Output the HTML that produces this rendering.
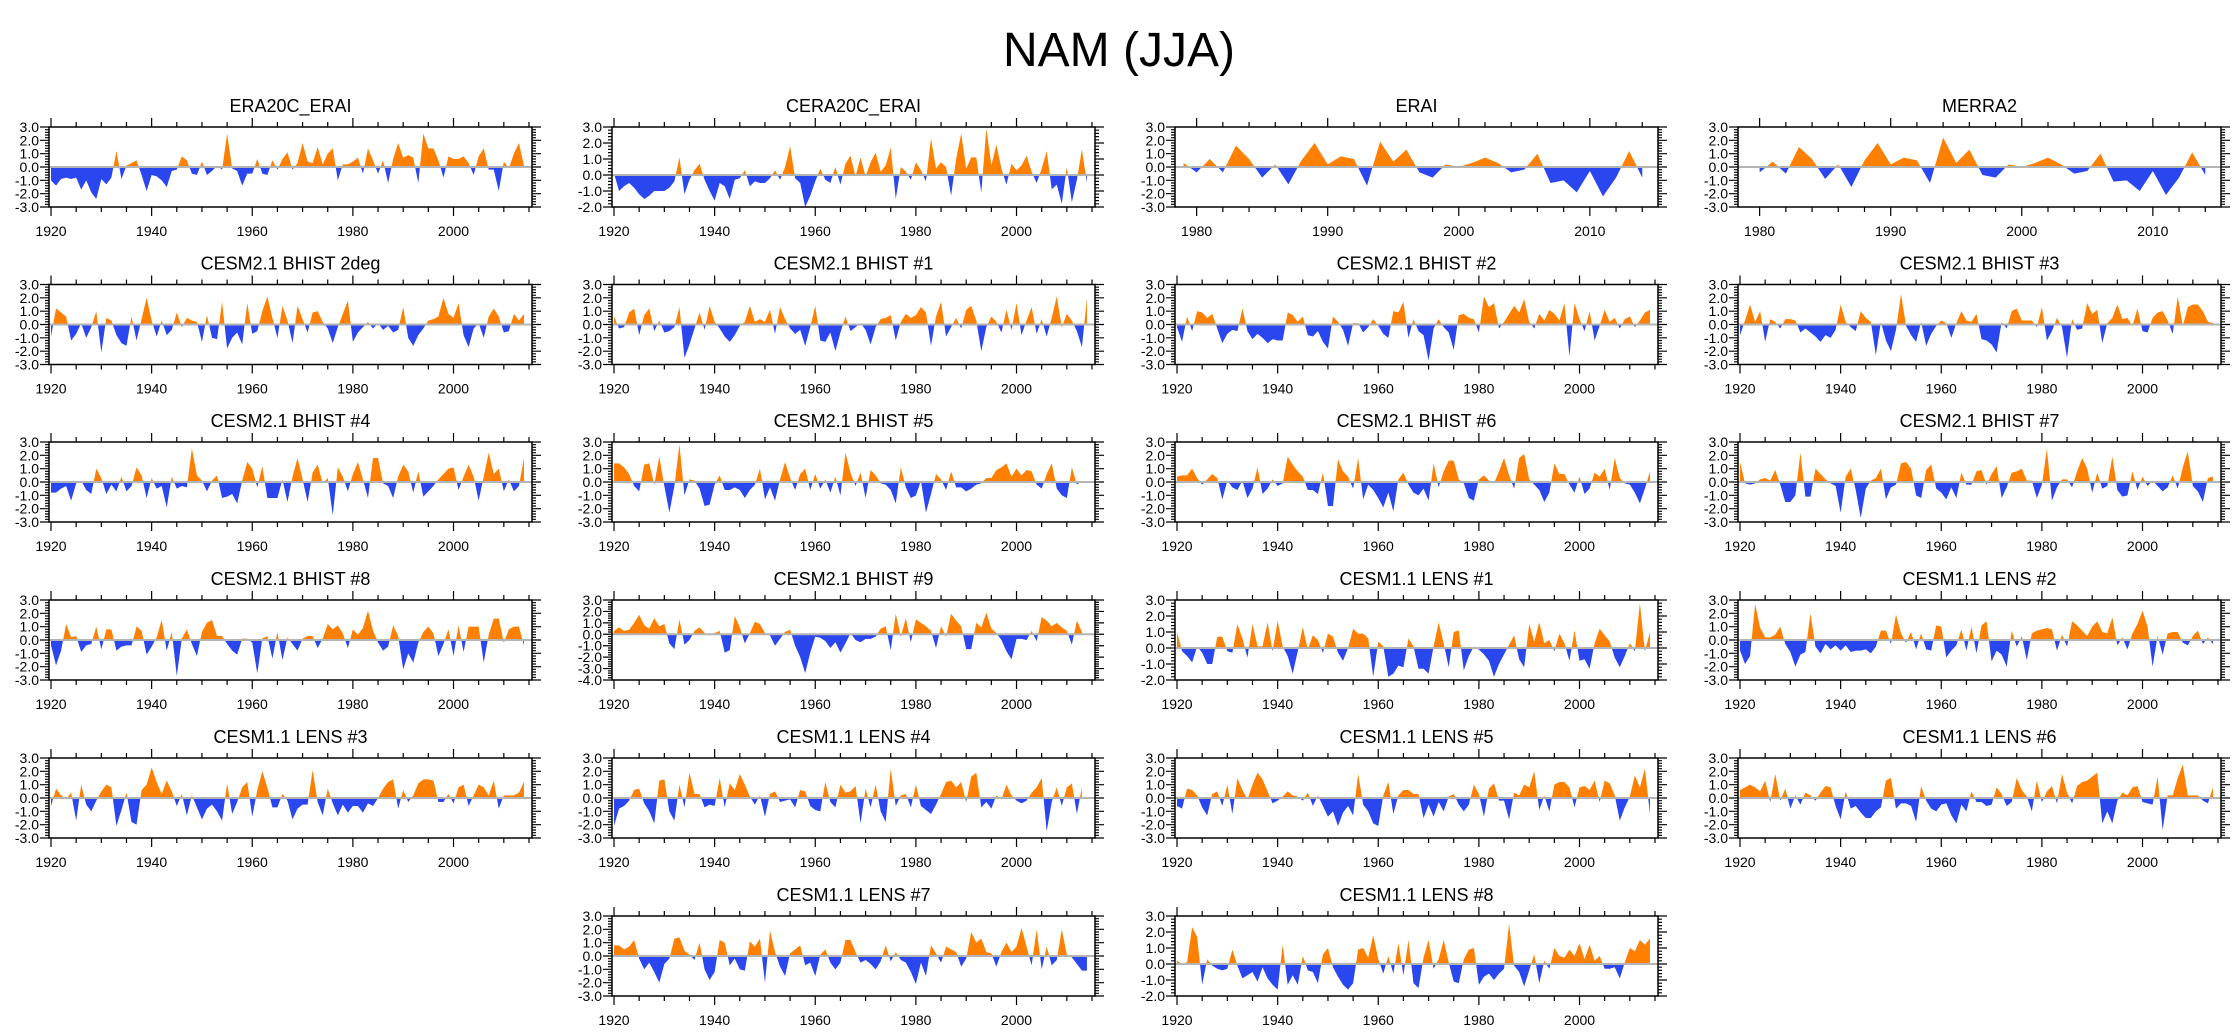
<!DOCTYPE html>
<html><head><meta charset="utf-8"><style>
html,body{margin:0;padding:0;background:#fff;}
svg{display:block;font-family:"Liberation Sans",Arial,sans-serif;}
</style></head><body>
<svg id="fig" width="2238" height="1034" viewBox="0 0 2238 1034" xmlns="http://www.w3.org/2000/svg">
<rect width="2238" height="1034" fill="#fff"/>
<text x="1119" y="66" font-size="48" text-anchor="middle" fill="#000">NAM (JJA)</text>
</svg>
<script>
const titles = ["ERA20C_ERAI","CERA20C_ERAI","ERAI","MERRA2","CESM2.1 BHIST 2deg","CESM2.1 BHIST #1","CESM2.1 BHIST #2","CESM2.1 BHIST #3","CESM2.1 BHIST #4","CESM2.1 BHIST #5","CESM2.1 BHIST #6","CESM2.1 BHIST #7","CESM2.1 BHIST #8","CESM2.1 BHIST #9","CESM1.1 LENS #1","CESM1.1 LENS #2","CESM1.1 LENS #3","CESM1.1 LENS #4","CESM1.1 LENS #5","CESM1.1 LENS #6","CESM1.1 LENS #7","CESM1.1 LENS #8"];
const startYears = [1920,1920,1979,1980,1920,1920,1920,1920,1920,1920,1920,1920,1920,1920,1920,1920,1920,1920,1920,1920,1920,1920];
const yMins = [-3,-2,-3,-3,-3,-3,-3,-3,-3,-3,-3,-3,-3,-4,-2,-3,-3,-3,-3,-3,-3,-2];
const yMaxs = [3,3,3,3,3,3,3,3,3,3,3,3,3,3,3,3,3,3,3,3,3,3];
const sEra20c = [-1.0,-1.4,-0.9,-0.8,-0.9,-0.8,-1.7,-1.0,-1.9,-2.4,-0.9,-1.3,-0.8,1.2,-0.9,0.1,0.3,0.5,-0.6,-1.8,-0.6,-0.7,-1.0,-1.5,-0.3,-0.2,0.8,0.5,-0.5,-0.6,0.4,-0.6,-0.3,0.1,-0.2,2.5,-0.1,-0.3,-1.4,-0.5,-0.5,0.6,-0.5,-0.6,0.5,-0.2,0.6,1.1,-0.2,0.3,1.8,0.4,0.3,1.5,0.2,1.0,1.4,-1.0,0.2,0.2,0.4,0.7,-0.5,1.4,0.5,-0.5,0.5,-1.2,0.6,1.8,0.7,0.9,0.7,-1.2,2.5,1.4,1.4,0.5,-0.8,0.8,0.6,0.6,0.8,0.3,-0.6,0.8,1.4,-0.2,-0.2,-1.8,0.4,-0.1,1.0,1.8,0.1];
const sCera20c = [0.1,-1.0,-0.7,-0.5,-0.8,-1.2,-1.5,-1.3,-1.0,-1.0,-1.0,-0.8,-0.4,1.1,-1.2,-0.3,0.3,0.7,-0.3,-1.0,-1.6,-0.5,-0.7,-1.5,-0.3,-0.2,0.3,-0.7,-0.4,-0.5,-0.5,-0.2,0.3,-0.3,0.5,1.8,-0.2,-0.5,-2.0,-1.3,-0.4,0.4,-0.3,-0.5,0.5,-0.6,0.7,1.2,-0.1,1.1,-0.1,0.8,1.4,0.2,0.6,1.7,-1.5,0.5,0.2,-0.3,0.8,0.3,-0.4,2.3,0.4,0.8,0.5,-1.3,1.0,2.6,0.4,1.1,1.1,-1.1,2.9,0.6,1.9,0.4,-0.6,0.7,0.3,0.6,1.2,0.2,-0.5,0.4,1.5,-0.9,-0.6,-1.8,0.5,-1.7,-0.3,1.6,-0.5];
const sErai = [0.3,-0.4,0.6,-0.4,1.6,0.6,-0.8,0.2,-1.3,0.5,1.8,0.2,0.8,0.6,-1.4,1.9,0.4,1.3,-0.4,-0.8,0.2,0.0,0.3,0.7,0.3,-0.4,-0.2,1.0,-1.2,-1.0,-1.9,-0.3,-2.2,-0.8,1.2,-0.8];
const sMerra2 = [-0.4,0.4,-0.5,1.5,0.6,-0.9,0.2,-1.5,0.5,1.8,0.2,0.7,0.5,-1.2,2.2,0.3,1.3,-0.6,-0.8,0.2,0.0,0.3,0.7,0.2,-0.5,-0.3,1.0,-1.1,-1.0,-1.8,-0.3,-2.1,-0.8,1.1,-0.6];
const sB2deg = [-0.9,1.2,0.9,0.6,-1.2,-0.7,0.1,-1.0,-0.2,1.0,-2.1,0.5,0.3,-0.8,-1.4,-1.6,0.6,-1.2,0.4,2.0,0.3,-0.9,0.3,-0.8,-0.4,0.9,-0.2,0.5,0.3,0.2,-1.3,0.7,-1.0,-1.1,1.7,-1.8,-1.0,-0.6,-1.5,1.6,-0.7,-0.5,1.0,2.1,0.5,-1.0,1.4,0.3,-1.4,1.4,0.4,-0.6,0.9,1.0,0.2,-0.3,-1.4,-0.2,0.8,1.8,-1.3,-0.6,-0.2,0.2,-0.3,0.1,-0.4,-0.1,-0.6,-0.4,1.3,-1.0,-1.6,-0.8,-0.3,0.3,0.4,0.6,2.0,0.8,0.5,1.6,-0.8,-1.7,-0.3,0.1,-1.0,0.6,1.2,0.6,-0.6,-0.5,0.8,0.3,0.8];
const sB1 = [0.6,-0.3,-0.2,0.9,1.2,-0.8,0.7,1.2,-0.5,0.3,-0.6,-0.5,-0.2,1.3,-2.5,-1.5,-0.3,0.9,-0.4,1.4,0.2,-0.3,-0.9,-1.3,-0.8,-0.1,0.2,1.4,0.2,0.4,0.2,1.1,-0.7,1.3,0.4,-0.3,-0.7,-0.4,-1.6,-0.2,1.4,-1.2,-1.3,-0.6,-2.0,-0.6,0.6,-0.5,-0.2,0.1,-0.4,-1.5,-0.2,0.4,0.5,0.7,-1.2,0.2,0.8,0.5,0.7,1.3,0.9,-1.6,0.6,1.7,-0.9,-0.2,0.5,-0.3,1.1,1.4,0.3,-2.0,-0.2,0.6,0.2,-0.6,1.1,-0.4,1.6,-0.8,0.3,1.3,-0.7,0.4,-0.9,0.5,2.1,-0.2,0.8,0.3,-0.5,-1.7,2.0];
const sB2 = [-0.2,-1.3,0.6,-0.5,1.0,0.9,0.5,0.8,-0.3,-1.4,-0.7,-0.4,-0.5,1.2,-0.5,-1.1,-0.7,-1.0,-1.4,-1.1,-1.2,-1.2,0.9,0.7,0.2,0.6,-0.8,-0.9,-0.5,-1.3,-1.8,0.6,0.2,-0.4,-1.6,0.1,0.1,-0.6,-0.2,0.4,-0.1,-0.7,-1.0,1.0,0.9,1.7,-1.0,0.4,-0.5,-0.8,-2.7,-0.3,0.4,-0.2,-0.6,-1.9,0.7,0.8,0.5,0.4,-0.6,2.1,1.3,1.6,-0.3,0.2,0.8,1.4,0.9,1.9,0.2,-0.3,0.8,0.3,1.1,0.8,0.3,1.6,-2.4,1.6,0.4,-0.5,1.0,-1.2,-0.1,1.1,0.2,0.5,-0.3,0.4,0.6,-0.2,0.3,0.9,1.1];
const sB3 = [-0.8,0.3,1.5,0.2,1.0,-1.3,0.4,0.2,-0.3,0.4,0.4,0.3,-0.6,-0.3,-0.6,-0.9,-1.3,-0.8,-1.0,-0.4,1.5,0.2,-0.2,-0.5,1.0,0.5,0.2,-2.3,0.2,-1.2,-2.0,-0.4,2.3,-0.1,-0.8,-1.3,0.2,-1.6,-0.7,-0.1,0.3,0.1,-1.0,0.1,1.0,0.3,0.2,0.8,-1.1,-1.2,-1.5,-2.1,0.2,-0.3,1.0,1.2,0.3,0.3,0.3,-0.2,1.3,-1.2,-0.5,0.5,-0.2,-2.5,0.4,-0.4,-0.3,1.6,0.8,1.1,-1.4,0.1,0.5,1.5,0.4,0.5,-0.1,1.2,-0.5,-0.6,0.5,0.9,1.0,0.3,-0.7,2.1,-0.1,1.3,1.5,1.5,1.0,0.2,0.1];
const sB4 = [-0.8,-0.8,-0.5,-0.3,-1.4,-0.1,0.1,-0.6,-0.9,1.0,0.3,-0.9,-0.2,-0.7,0.4,-0.7,-0.3,1.1,0.5,-1.2,0.3,-0.5,-0.3,-1.9,0.4,-0.5,-0.3,-0.4,2.5,0.5,0.1,-0.7,0.1,0.5,-1.2,-1.1,-0.9,-1.6,0.1,1.5,1.0,-0.4,1.2,-1.2,-1.2,-1.2,0.2,-1.5,0.4,1.8,0.2,-1.5,0.7,1.3,-0.1,0.3,-2.5,1.1,0.4,-0.7,0.6,1.5,0.2,-1.2,1.8,1.8,-0.1,-0.3,-1.2,0.4,1.3,0.8,-0.8,0.8,-1.1,-0.7,-0.3,0.2,0.6,1.0,1.1,-0.6,0.4,1.3,0.4,-1.4,0.4,2.2,0.6,1.0,-0.7,0.2,-0.7,-0.3,1.8];
const sB5 = [1.4,1.4,1.1,0.6,-0.3,-0.7,1.3,1.4,-0.2,1.9,-0.3,-2.3,-0.3,2.8,-1.0,0.2,0.1,-0.5,-1.8,-1.7,-0.2,0.5,-0.6,-0.6,-0.4,-0.6,-1.2,-0.6,-0.2,1.0,-1.3,-0.4,-1.4,0.2,1.5,0.3,-0.6,0.6,1.0,-0.6,0.6,-0.5,0.2,-0.8,0.4,-1.0,2.2,0.7,-0.3,0.7,-1.2,0.9,0.5,-0.1,-0.2,-0.6,-1.6,1.1,-0.4,-1.2,-1.0,0.1,-2.3,-0.9,0.6,0.2,-0.6,0.8,-0.4,-0.4,-0.7,-0.5,-0.2,-0.1,0.3,0.3,0.9,1.1,1.4,0.4,1.0,0.5,0.9,0.8,-0.2,-0.5,0.6,1.4,-0.5,-1.0,-1.2,1.1,-0.2,0.1,-0.1];
const sB6 = [0.4,0.5,0.5,1.0,0.3,-0.2,0.2,0.6,0.3,-1.3,0.1,-0.4,-0.6,0.1,-1.2,-0.5,1.1,-0.9,-0.5,0.2,-0.3,-0.1,1.9,1.3,0.8,0.4,-0.6,-0.6,-0.9,0.7,-1.8,-1.8,1.7,0.8,0.4,-0.5,1.8,-1.3,-0.2,-0.6,-1.2,-1.9,-0.8,-2.2,0.2,0.7,-0.2,-0.8,-1.0,-0.5,-1.4,1.4,-0.4,0.8,1.6,1.6,0.2,-0.1,-1.2,-1.4,0.2,0.5,0.1,-0.1,0.8,1.8,0.5,-0.5,1.8,2.1,0.2,-0.2,-0.6,-1.5,-0.8,1.4,0.6,0.6,-0.2,-0.8,0.4,-0.9,-0.5,0.7,0.4,1.0,-0.6,1.8,0.3,-0.1,-0.2,-0.8,-1.6,-0.5,0.8];
const sB7 = [1.5,-0.1,-0.2,-0.1,0.2,0.3,0.1,0.9,-0.2,-1.5,-1.5,-1.0,2.2,-1.1,-1.1,1.0,0.6,0.2,-0.1,-0.3,-2.3,0.4,1.0,-0.6,-2.7,-0.5,0.1,0.3,1.0,-1.3,-0.4,-0.2,1.4,1.5,1.0,-1.0,-1.2,0.9,1.3,-0.5,-0.8,-1.3,-0.4,-1.2,0.7,-0.2,-0.2,0.8,0.9,-0.2,0.6,1.2,-1.2,-0.4,0.7,0.8,1.0,0.1,0.1,-1.2,-0.2,2.5,-1.4,-0.4,0.2,0.2,-0.4,0.8,1.8,1.0,-0.8,0.7,-0.5,-0.3,1.9,-0.6,-1.1,-1.0,0.8,-0.6,0.4,-0.3,0.1,-0.3,-0.7,-0.4,0.5,-0.5,1.1,2.3,-0.3,-0.7,-1.5,0.3,0.4];
const sB8 = [-0.4,-1.9,-0.8,1.2,0.2,0.3,-0.9,-0.4,-0.3,1.0,-0.7,0.8,0.8,-0.8,-0.5,-0.4,-0.4,1.0,0.7,-1.1,-0.5,0.2,1.5,-0.8,0.6,-2.7,0.1,0.8,-0.3,-1.2,0.6,1.3,1.5,0.3,0.3,-0.3,-0.8,-1.1,0.1,0.1,-0.2,-2.5,0.1,0.3,-1.4,0.6,-1.5,0.2,-0.3,-0.8,0.1,0.3,0.3,-0.6,0.1,1.2,0.8,1.1,0.5,-0.6,0.8,0.4,0.9,2.2,0.7,-0.2,-0.8,-0.5,1.1,0.3,-2.2,-1.0,-1.7,-0.2,0.6,1.0,0.5,-1.2,-0.3,0.8,-1.2,1.1,-0.9,1.0,1.0,1.0,-1.7,0.4,1.6,1.6,-0.2,0.8,1.0,1.0,-0.4];
const sB9 = [0.3,0.6,0.3,0.4,1.0,1.7,0.8,0.5,1.4,0.7,0.9,-0.8,-1.3,1.3,-0.9,-0.5,0.3,0.6,0.1,-0.1,0.1,0.3,-1.6,-1.4,1.6,0.6,-0.8,0.1,1.1,0.9,0.1,-0.1,-1.0,-0.4,0.2,0.4,-1.0,-2.0,-3.4,-1.6,-0.2,-0.3,-0.6,-1.2,-0.7,-1.6,-0.8,0.1,-0.5,-0.7,-0.4,-0.4,-0.2,0.5,0.7,-1.4,1.8,-0.2,1.4,-0.7,1.3,1.0,0.7,0.3,-1.2,0.7,-0.2,1.8,1.2,0.7,-1.3,-1.3,1.0,0.6,1.9,0.5,0.1,-0.5,-1.5,-2.2,-0.4,-0.4,-0.5,0.3,-0.6,1.5,1.2,0.7,1.0,0.6,0.3,-0.9,1.2,0.2];
const sL1 = [1.0,-0.2,-0.5,-0.9,0.1,-0.3,-1.0,-1.0,0.7,0.7,-0.2,-0.3,1.5,0.6,-0.6,1.5,0.1,0.1,1.6,-0.2,1.7,0.1,-0.5,-1.6,-0.2,1.3,-0.1,0.8,0.5,-0.3,0.9,0.7,-0.3,-0.8,0.0,1.2,0.9,0.9,0.6,-1.8,0.4,0.1,-1.8,-1.6,-1.1,-1.2,0.6,0.1,-1.3,-1.3,-1.6,0.1,1.6,0.3,-1.2,1.0,1.1,-1.4,-0.5,0.1,-0.1,-0.4,-0.8,-1.8,-1.0,-0.4,0.2,0.8,-0.7,-1.2,1.5,0.4,1.6,0.3,0.5,-0.2,0.9,0.3,-0.8,1.1,-0.8,-0.7,-1.3,0.3,1.2,0.8,0.4,-0.6,-1.2,-0.5,0.3,-0.2,2.8,-0.2,1.0];
const sL2 = [-0.8,-1.8,-1.2,2.7,0.9,0.2,0.2,0.4,1.0,-0.3,-0.9,-2.0,-1.1,-0.9,2.0,-0.5,-1.0,-0.3,-0.7,-0.4,-0.8,-0.4,-0.9,-0.8,-0.8,-0.7,-1.0,-0.5,0.7,0.7,-0.3,1.9,0.5,-0.2,0.6,-0.7,0.5,-0.7,-0.8,1.1,1.0,-1.3,-0.8,-0.4,0.8,-0.8,1.0,-1.0,1.1,1.4,-1.6,-0.8,-1.1,-2.0,0.7,-0.5,0.3,-1.5,0.5,0.7,0.8,0.9,0.8,-0.8,0.4,-0.5,1.4,1.1,0.7,0.3,1.0,1.4,0.6,0.5,1.7,-0.4,0.2,-0.7,0.5,1.2,2.2,1.0,-2.0,0.3,-1.1,0.5,0.6,0.6,-0.2,-0.4,0.3,0.7,-0.3,0.2,-0.3];
const sL3 = [-0.6,0.7,0.2,-0.1,0.4,-1.7,1.0,-0.5,-1.0,-0.2,0.5,1.0,0.8,-2.1,-0.9,0.4,-1.8,-2.0,0.6,1.0,2.3,1.2,0.3,1.3,0.5,-0.6,0.3,-1.3,0.2,-0.7,-1.6,-0.8,-0.5,-1.0,-1.7,1.1,-1.2,-0.3,0.8,1.2,-1.4,0.6,2.0,0.8,-0.7,-0.7,0.3,-0.2,-1.6,-0.8,-0.5,-0.5,2.1,-0.3,-1.3,0.7,-0.4,-1.3,-0.5,-1.1,-0.6,-0.6,-1.1,-0.4,-0.6,0.0,0.7,1.2,1.4,-0.8,0.6,-0.3,0.2,1.1,1.4,1.4,1.3,-0.3,-0.3,0.3,-0.4,0.8,1.0,-0.6,0.2,1.0,0.8,0.2,1.3,-0.8,0.2,0.2,0.2,0.4,1.2];
const sL4 = [-2.1,-0.8,-0.6,-0.2,0.6,0.7,-0.4,-1.0,-1.9,1.3,1.4,-1.0,-1.7,1.0,-0.7,1.9,0.3,0.3,-0.7,-0.5,-0.6,1.5,-0.7,1.1,0.6,1.8,1.0,0.1,-0.5,0.2,-1.4,0.3,0.5,-0.3,-0.2,-0.1,-0.7,0.6,0.5,-0.6,-0.9,-1.0,1.2,-0.3,-0.7,1.0,0.4,0.5,0.9,-1.9,0.7,-0.7,1.0,-1.0,-1.8,2.2,-0.6,0.2,0.3,-0.7,1.0,-0.6,-0.9,-1.2,-0.5,0.3,1.2,1.3,0.8,1.2,-0.3,1.6,1.9,-0.7,-0.3,-0.8,0.2,-0.1,1.0,0.2,-0.2,-0.4,-0.2,0.4,0.8,1.5,-2.5,-0.3,0.8,-0.6,0.8,1.1,-1.2,0.8];
const sL5 = [-0.6,-0.8,0.7,0.6,0.2,-0.7,-1.3,0.3,0.5,-0.6,1.0,-1.2,1.5,0.6,-0.1,1.0,1.9,1.4,0.5,-0.4,-0.2,0.1,0.5,0.2,0.1,-0.2,0.4,-0.6,0.2,-0.6,-1.4,-1.0,-2.1,-1.1,-0.6,-1.3,1.8,-0.5,-1.0,-1.9,-2.1,0.2,1.2,-1.2,0.2,0.6,0.6,0.3,0.3,-1.5,-0.5,-1.4,-0.3,-1.0,0.1,0.3,-0.5,-1.0,-0.5,1.0,0.3,-1.4,0.7,1.1,-0.2,-0.2,-1.6,0.4,0.2,1.0,0.8,2.0,-0.9,0.2,-1.0,1.0,1.2,1.2,0.8,-0.7,0.8,0.9,0.6,1.3,-0.3,1.3,1.1,0.2,-1.7,-0.7,0.1,1.7,0.8,2.2,-1.2];
const sL6 = [0.6,0.8,1.0,0.8,0.5,1.3,-0.3,1.8,-0.2,0.7,-0.8,0.2,-0.5,0.4,0.2,-0.2,0.4,0.9,0.8,-0.6,-1.6,0.5,-0.8,-0.6,-1.1,-1.5,-1.5,-1.0,-0.7,1.3,1.5,-0.8,-0.4,-0.4,-0.6,-1.8,0.9,-0.2,-0.8,-1.0,-0.5,-0.4,-1.3,-1.9,-0.5,-1.0,0.5,-0.3,-0.3,-0.6,-0.5,0.8,0.3,-0.6,-0.3,1.5,0.6,0.1,-1.0,1.3,-0.3,0.5,0.9,-0.4,1.8,0.4,-0.4,0.9,1.2,1.3,1.6,1.9,-1.9,-1.0,-1.9,-0.2,0.4,0.2,0.8,0.9,-0.3,-0.4,-0.5,1.6,-2.4,0.2,0.2,1.5,2.5,0.2,0.2,0.2,-0.2,-0.4,0.8];
const sL7 = [0.8,0.8,0.5,0.7,1.2,-0.2,-1.0,-0.5,-1.2,-2.0,-0.6,-0.2,1.3,1.4,0.4,0.1,-0.3,1.0,-1.0,-1.8,-1.2,1.2,1.0,-0.7,-0.2,-1.0,-1.1,1.1,0.7,1.3,-2.0,1.9,0.3,-0.8,-1.5,0.2,0.5,0.8,-0.7,-0.5,-1.5,0.1,0.5,-0.5,-1.0,-0.5,1.2,1.2,0.3,-0.5,-0.3,-0.6,-1.0,-0.4,0.8,-0.4,0.3,-0.3,-0.5,-1.2,-2.1,-0.5,-1.5,0.8,0.2,-0.5,0.7,0.5,0.3,-0.8,-0.2,1.8,1.0,1.3,0.3,0.2,-0.8,0.3,1.0,0.3,0.7,2.1,0.7,-0.7,2.0,-1.0,0.7,-0.7,-0.3,2.0,0.1,-0.1,-0.6,-1.1,-1.1];
const sL8 = [0.2,0.0,0.1,2.3,1.7,-1.3,0.3,-0.1,-0.3,-0.4,-0.3,0.9,-0.1,-0.9,-0.7,-0.5,-1.1,-0.2,-0.9,-1.3,-1.6,1.2,-1.3,-0.7,-1.3,0.5,-0.4,-0.5,-1.2,0.6,1.0,-0.2,-0.8,-1.3,-1.6,-1.2,0.9,1.0,0.4,1.8,0.3,-0.6,0.5,-0.6,1.3,-0.7,1.5,-1.2,-1.5,0.4,1.5,-0.3,0.3,1.5,0.1,-1.1,-1.2,0.3,0.9,1.0,-1.3,-0.8,-0.6,-1.0,-0.6,-0.3,2.5,-0.1,-0.5,-1.4,-0.4,0.6,-1.2,0.2,-0.3,1.0,0.5,0.4,0.9,0.5,1.3,0.3,1.2,0.2,0.5,-0.3,-0.3,-0.2,-0.9,0.1,1.0,0.8,1.5,1.2,1.6];
const seriesList = [sEra20c,sCera20c,sErai,sMerra2,sB2deg,sB1,sB2,sB3,sB4,sB5,sB6,sB7,sB8,sB9,sL1,sL2,sL3,sL4,sL5,sL6,sL7,sL8];
const longTicks = [1920,1940,1960,1980,2000];
const shortTicks = [1980,1990,2000,2010];

const NS='http://www.w3.org/2000/svg';
const svg=document.getElementById('fig');
const colX=[49,612,1175,1738], PW=483, PH=80;
const rowY=[127,284.5,442,600,758,916];
const slots=[];
for(let r=0;r<5;r++)for(let c=0;c<4;c++)slots.push([c,r]);
slots.push([1,5]);slots.push([2,5]);
function mk(tag,attrs,parent){const e=document.createElementNS(NS,tag);for(const k in attrs)e.setAttribute(k,attrs[k]);(parent||svg).appendChild(e);return e;}
const slug=s=>s.toLowerCase().replace(/[^a-z0-9]+/g,'-').replace(/^-|-$/g,'');

titles.forEach((title,p)=>{
  const [c,r]=slots[p];
  const x0=colX[c], y0=rowY[r];
  const isShort = startYears[p]>1950;
  const xmin = isShort?1978.35:1919.6, xmax = isShort?2015.2:2015.6;
  const ymin=yMins[p], ymax=yMaxs[p];
  const X=v=>x0+(v-xmin)/(xmax-xmin)*PW;
  const Y=v=>y0+(ymax-v)/(ymax-ymin)*PH;
  const g=mk('g',{});
  
  
  const t=mk('text',{x:x0+PW/2,y:y0-15,'font-size':18,'text-anchor':'middle'},g);
  
  
  t.textContent=title;
  // data points with zero crossings
  const d=seriesList[p], sy=startYears[p];
  const pts=[];
  for(let i=0;i<d.length;i++){
    if(i>0&&d[i-1]*d[i]<0){const f=d[i-1]/(d[i-1]-d[i]);pts.push([sy+i-1+f,0]);}
    pts.push([sy+i,d[i]]);
  }
  const first=pts[0][0], last=pts[pts.length-1][0];
  const mkArea=(fn,color,name)=>{
    let s='M'+X(first)+','+Y(0);
    pts.forEach(q=>{s+=' L'+X(q[0]).toFixed(2)+','+Y(fn(q[1])).toFixed(2);});
    s+=' L'+X(last)+','+Y(0)+' Z';
    const a=mk('path',{d:s,fill:color,stroke:'none'},g);
    
    
  };
  mkArea(v=>Math.max(v,0),'#ff8000','positive-area');
  mkArea(v=>Math.min(v,0),'#2a46ef','negative-area');
  const zl=mk('line',{x1:x0,x2:x0+PW,y1:Y(0),y2:Y(0),stroke:'#b4b4b4','stroke-width':2},g);
  
  
  const fr=mk('rect',{x:x0,y:y0,width:PW,height:PH,fill:'none',stroke:'#000','stroke-width':1.5},g);
  
  
  // x ticks
  const majors=isShort?shortTicks:longTicks;
  const step=isShort?2:5;
  let tk='';
  for(let yr=Math.ceil(xmin);yr<=xmax;yr++){
    if(yr%step) continue;
    const L=majors.includes(yr)?9:5, x=X(yr);
    tk+=`M${x},${y0} V${y0-L} M${x},${y0+PH} V${y0+PH+L} `;
  }
  // y ticks
  for(let k=Math.round(ymin*5);k<=Math.round(ymax*5);k++){
    const v=k/5, L=(k%5===0)?9:4, y=Y(v);
    tk+=`M${x0},${y} H${x0-L} M${x0+PW},${y} H${x0+PW+L} `;
  }
  const tp=mk('path',{d:tk,stroke:'#000','stroke-width':1.2,fill:'none'},g);
  
  
  majors.forEach(yr=>{
    const lt=mk('text',{x:X(yr),y:y0+PH+29,'font-size':14,'text-anchor':'middle'},g);
    
    
    lt.textContent=yr;
  });
  for(let v=ymin;v<=ymax;v++){
    const lt=mk('text',{x:x0-10,y:Y(v)+5,'font-size':14,'text-anchor':'end'},g);
    
    
    lt.textContent=v.toFixed(1);
  }
});
</script>
</body></html>
